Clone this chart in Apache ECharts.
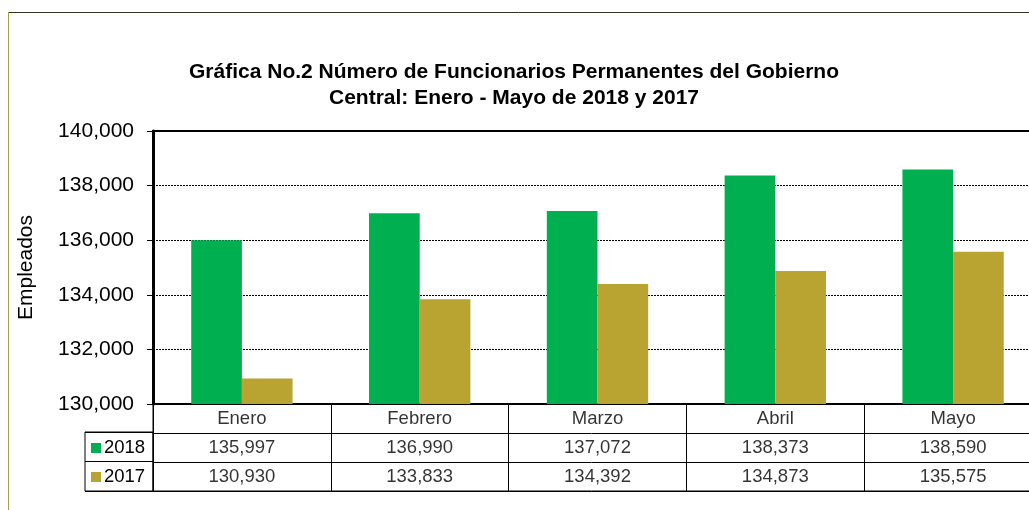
<!DOCTYPE html>
<html>
<head>
<meta charset="utf-8">
<script src="https://cdn.jsdelivr.net/npm/echarts@6/dist/echarts.min.js"></script>
<style>html,body{margin:0;padding:0;background:#fff;}#c{width:1029px;height:510px;}</style>
</head>
<body>
<div id="c"></div>
<script>
var months = ['Enero', 'Febrero', 'Marzo', 'Abril', 'Mayo'];
var s2018 = [135997, 136990, 137072, 138373, 138590];
var s2017 = [130930, 133833, 134392, 134873, 135575];
var seriesNames = ['2018', '2017'];
var yTicks = [130000, 132000, 134000, 136000, 138000, 140000];
var titleText = 'Gráfica No.2 Número de Funcionarios Permanentes del Gobierno\nCentral: Enero - Mayo de 2018 y 2017';
var yName = 'Empleados';

var GREEN = '#00B050', OLIVE = '#B9A432';
var FONT = 'Liberation Sans, Arial, sans-serif';
function fmt(v) { return v.toLocaleString('en-US'); }

// table cells built from the arrays
var rowKeys = ['hdr'].concat(seriesNames);
var cells = [];
months.forEach(function (m, i) {
  cells.push({ value: [i, 0], label: { formatter: m } });
  cells.push({ value: [i, 1], label: { formatter: fmt(s2018[i]) } });
  cells.push({ value: [i, 2], label: { formatter: fmt(s2017[i]) } });
});

var chart = echarts.init(document.getElementById('c'), null, { renderer: 'canvas' });
chart.setOption({
  animation: false,
  textStyle: { fontFamily: FONT },
  title: {
    text: titleText,
    left: 509, textAlign: 'center', top: 54,
    textStyle: { fontFamily: FONT, fontSize: 21, fontWeight: 'bold', color: '#000', lineHeight: 26 }
  },
  legend: {
    data: seriesNames,
    orient: 'vertical',
    left: 86, top: 433,
    itemWidth: 10, itemHeight: 10, itemGap: 9,
    icon: 'rect',
    textStyle: { fontFamily: FONT, fontSize: 18.5, color: '#000', lineHeight: 20, padding: [0, 0, 0, -2] }
  },
  graphic: [
    { type: 'line', shape: { x1: 8, y1: 12.5, x2: 1029, y2: 12.5 }, style: { stroke: '#33331f', lineWidth: 1 } },
    { type: 'line', shape: { x1: 8.5, y1: 12, x2: 8.5, y2: 510 }, style: { stroke: '#a3a345', lineWidth: 1 } }
  ],
  grid: [
    { left: 153, width: 889, top: 131, height: 273, show: true, borderColor: '#000', borderWidth: 2, containLabel: false, outerBoundsMode: 'none' },
    { left: 153, width: 889, top: 404, height: 87, show: true, borderColor: '#000', borderWidth: 1, containLabel: false, outerBoundsMode: 'none' },
    { left: 85, width: 68, top: 432, height: 59, show: true, borderColor: '#000', borderWidth: 1, containLabel: false, outerBoundsMode: 'none' }
  ],
  xAxis: [
    { gridIndex: 0, type: 'category', data: months,
      axisLine: { lineStyle: { color: '#000', width: 2 } },
      axisTick: { show: false }, axisLabel: { show: false } },
    { gridIndex: 1, type: 'category', data: months,
      axisLine: { show: false }, axisTick: { show: false }, axisLabel: { show: false },
      splitLine: { show: true, lineStyle: { color: '#000', width: 1 } } },
    { gridIndex: 2, type: 'value', min: 0, max: 1, show: false }
  ],
  yAxis: [
    { gridIndex: 0, type: 'value', min: yTicks[0], max: yTicks[yTicks.length - 1], interval: 2000,
      name: yName, nameLocation: 'middle', nameGap: 116, nameRotate: 90,
      nameTextStyle: { fontFamily: FONT, fontSize: 21, color: '#000' },
      axisLine: { show: true, lineStyle: { color: '#000', width: 3 } },
      axisTick: { show: true, inside: false, length: 6, lineStyle: { color: '#000' } },
      axisLabel: { fontFamily: FONT, fontSize: 21, color: '#000', margin: 19, formatter: function (v) { return fmt(v); } },
      splitLine: { show: true, lineStyle: { color: '#000', type: [2, 1], width: 1 } } },
    { gridIndex: 1, type: 'category', data: rowKeys, inverse: true,
      axisLine: { show: false }, axisTick: { show: false }, axisLabel: { show: false },
      splitLine: { show: true, lineStyle: { color: '#000', width: 1 } } },
    { gridIndex: 2, type: 'category', data: seriesNames, inverse: true,
      axisLine: { show: false }, axisTick: { show: false }, axisLabel: { show: false },
      splitLine: { show: true, lineStyle: { color: '#000', width: 1 } } }
  ],
  series: [
    { name: seriesNames[0], type: 'bar', xAxisIndex: 0, yAxisIndex: 0, data: s2018,
      barGap: '0%', barCategoryGap: '43%', itemStyle: { color: GREEN } },
    { name: seriesNames[1], type: 'bar', xAxisIndex: 0, yAxisIndex: 0, data: s2017,
      barGap: '0%', barCategoryGap: '43%', itemStyle: { color: OLIVE } },
    { name: 'tabla', type: 'scatter', xAxisIndex: 1, yAxisIndex: 1, data: cells,
      symbolSize: 1, itemStyle: { color: 'rgba(0,0,0,0)' }, silent: true,
      label: { show: true, position: 'inside', fontFamily: FONT, fontSize: 18.5, color: '#000' } }
  ]
});
</script>
</body>
</html>
